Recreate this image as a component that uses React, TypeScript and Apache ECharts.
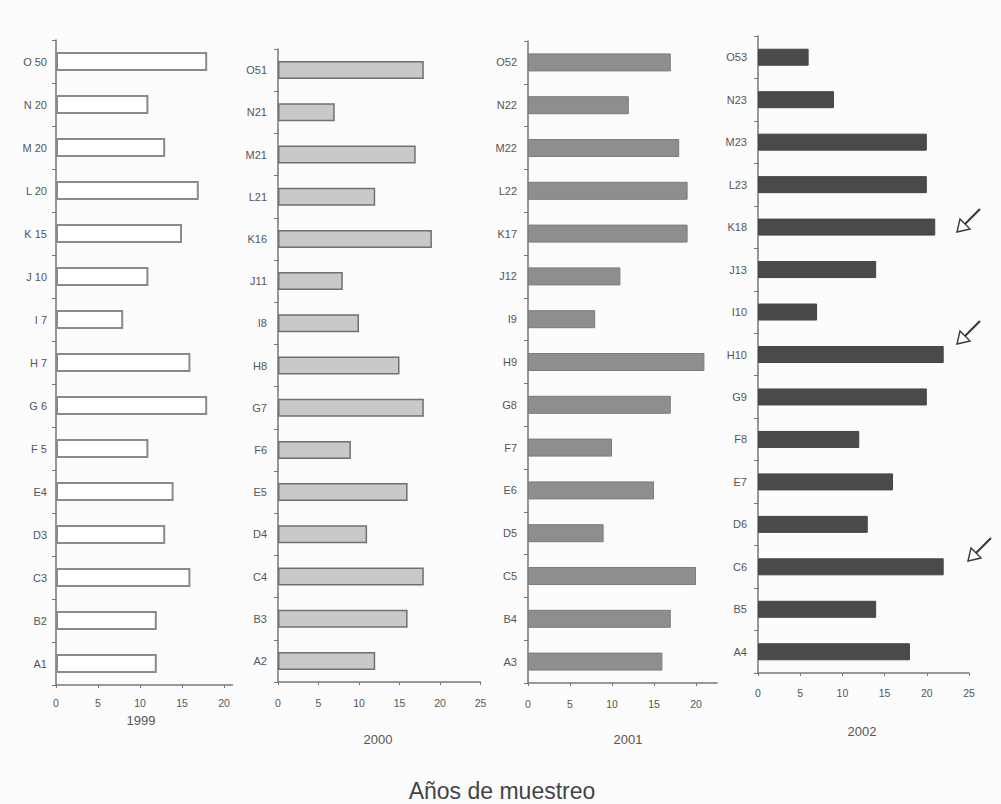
import React, { useEffect, useRef } from "react";
import * as echarts from "echarts";

// Categories listed top to bottom
const cats1999 = ["O 50", "N 20", "M 20", "L 20", "K 15", "J 10", "I 7", "H 7", "G 6", "F 5", "E4", "D3", "C3", "B2", "A1"];
const vals1999 = [18, 11, 13, 17, 15, 11, 8, 16, 18, 11, 14, 13, 16, 12, 12];

const cats2000 = ["O51", "N21", "M21", "L21", "K16", "J11", "I8", "H8", "G7", "F6", "E5", "D4", "C4", "B3", "A2"];
const vals2000 = [18, 7, 17, 12, 19, 8, 10, 15, 18, 9, 16, 11, 18, 16, 12];

const cats2001 = ["O52", "N22", "M22", "L22", "K17", "J12", "I9", "H9", "G8", "F7", "E6", "D5", "C5", "B4", "A3"];
const vals2001 = [17, 12, 18, 19, 19, 11, 8, 21, 17, 10, 15, 9, 20, 17, 16];

const cats2002 = ["O53", "N23", "M23", "L23", "K18", "J13", "I10", "H10", "G9", "F8", "E7", "D6", "C6", "B5", "A4"];
const vals2002 = [6, 9, 20, 20, 21, 14, 7, 22, 20, 12, 16, 13, 22, 14, 18];

const years = ["1999", "2000", "2001", "2002"];
const xTitle = "Años de muestreo";

const FONT = "Liberation Sans, Arial, sans-serif";

export default function App() {
  const ref = useRef<HTMLDivElement>(null);

  useEffect(() => {
    if (!ref.current) return;
    const chart = echarts.init(ref.current, undefined, { renderer: "svg" });

    const panels = [
      { cats: cats1999, vals: vals1999, grid: { left: 56, top: 40, width: 176.4, height: 645 }, max: 21, bw: 19, fill: "#ffffff", border: "#8a8a8a", bwid: 2, ym: 9, xm: 12 },
      { cats: cats2000, vals: vals2000, grid: { left: 278, top: 49, width: 202.5, height: 633 }, max: 25, bw: 18, fill: "#c9c9c9", border: "#707070", bwid: 1.5, ym: 11, xm: 15 },
      { cats: cats2001, vals: vals2001, grid: { left: 528, top: 41, width: 189, height: 642 }, max: 22.5, bw: 18, fill: "#8e8e8e", border: "#7c7c7c", bwid: 1, ym: 11, xm: 15 },
      { cats: cats2002, vals: vals2002, grid: { left: 758, top: 36, width: 211, height: 637 }, max: 25, bw: 17, fill: "#4a4a4a", border: "#444444", bwid: 1, ym: 11, xm: 14 },
    ];

    const axisLine = { show: true, lineStyle: { color: "#777777", width: 1.5 } };

    const option: any = {
      animation: false,
      backgroundColor: "#fcfcfc",
      textStyle: { color: "#555555", fontFamily: FONT },
      grid: panels.map((p) => ({ ...p.grid })),
      xAxis: panels.map((p, i) => ({
        type: "value",
        gridIndex: i,
        min: 0,
        max: p.max,
        interval: 5,
        splitLine: { show: false },
        axisLine,
        axisTick: { show: true, length: 3, lineStyle: { color: "#777777" } },
        axisLabel: {
          show: true,
          color: "#555555",
          fontSize: 10.5,
          fontFamily: FONT,
          margin: p.xm,
          showMaxLabel: p.max % 5 === 0,
        },
      })),
      yAxis: panels.map((p, i) => ({
        type: "category",
        gridIndex: i,
        data: p.cats,
        inverse: true,
        axisLine,
        axisTick: { show: true, length: 4, lineStyle: { color: "#777777" } },
        axisLabel: { color: "#555555", fontSize: 11, fontFamily: FONT, margin: p.ym },
      })),
      series: panels.map((p, i) => ({
        type: "bar",
        xAxisIndex: i,
        yAxisIndex: i,
        data: p.vals,
        barWidth: p.bw,
        itemStyle: { color: p.fill, borderColor: p.border, borderWidth: p.bwid },
      })),
      graphic: [
        { type: "text", x: 141, y: 720, style: { text: years[0], fontSize: 13, fontFamily: FONT, fill: "#555555", align: "center", verticalAlign: "middle" } },
        { type: "text", x: 378, y: 739, style: { text: years[1], fontSize: 13, fontFamily: FONT, fill: "#555555", align: "center", verticalAlign: "middle" } },
        { type: "text", x: 628, y: 739, style: { text: years[2], fontSize: 13, fontFamily: FONT, fill: "#555555", align: "center", verticalAlign: "middle" } },
        { type: "text", x: 862, y: 731, style: { text: years[3], fontSize: 13, fontFamily: FONT, fill: "#555555", align: "center", verticalAlign: "middle" } },
        { type: "text", x: 502, y: 791, style: { text: xTitle, fontSize: 23, fontFamily: FONT, fill: "#444444", align: "center", verticalAlign: "middle" } },
        ...[
          [957, 232],
          [957, 344],
          [968, 561],
        ].map(([tx, ty]) => ({
          type: "group",
          x: tx,
          y: ty,
          children: [
            { type: "line", shape: { x1: 7, y1: -7, x2: 23, y2: -23 }, style: { stroke: "#3a3a3a", lineWidth: 2.2 } },
            { type: "polygon", shape: { points: [[0, 0], [3, -13], [13, -3]] }, style: { fill: "#ffffff", stroke: "#3a3a3a", lineWidth: 1.4 } },
          ],
        })),
      ],
    };

    chart.setOption(option);
    return () => chart.dispose();
  }, []);

  return <div ref={ref} style={{ position: "fixed", left: 0, top: 0, width: 1001, height: 804 }} />;
}
